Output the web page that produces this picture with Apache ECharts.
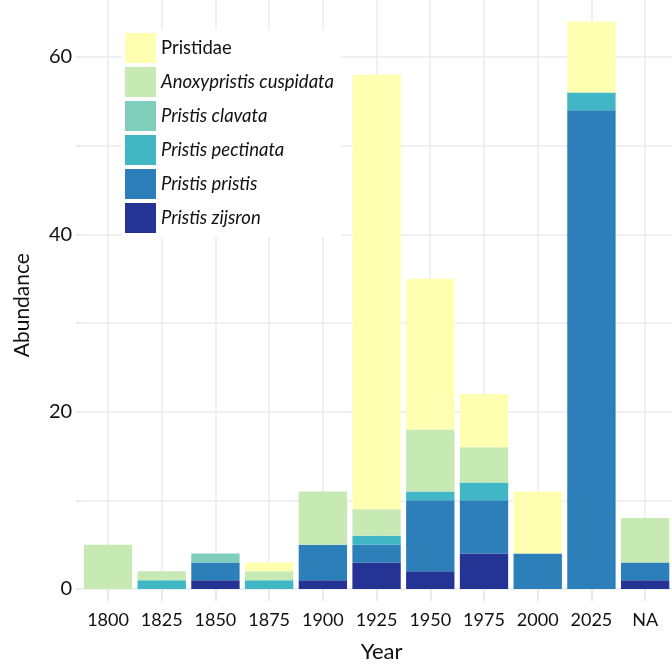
<!DOCTYPE html>
<html>
<head>
<meta charset="utf-8">
<script src="https://cdn.jsdelivr.net/npm/echarts@6/dist/echarts.min.js"></script>
<style>html,body{margin:0;padding:0;background:#fff}#c{width:672px;height:665px}</style>
</head>
<body>
<div id="c"></div>
<script>
const categories = ['1800','1825','1850','1875','1900','1925','1950','1975','2000','2025','NA'];
const zijsron   = [0,0,1,0,1,3,2,4,0,0,1];
const pristis   = [0,0,2,0,4,2,8,6,4,54,2];
const pectinata = [0,1,0,1,0,1,1,2,0,2,0];
const clavata   = [0,0,1,0,0,0,0,0,0,0,0];
const anoxy     = [5,1,0,1,6,3,7,4,0,0,5];
const pristidae = [0,0,0,1,0,49,17,6,7,8,0];
const yTicks = [0,20,40,60];

const seriesDefs = [
  ['Pristis zijsron', zijsron, '#253494'],
  ['Pristis pristis', pristis, '#2c7fb8'],
  ['Pristis pectinata', pectinata, '#41b6c4'],
  ['Pristis clavata', clavata, '#7fcdbb'],
  ['Anoxypristis cuspidata', anoxy, '#c7e9b4'],
  ['Pristidae', pristidae, '#ffffb2']
];

const gridCol = '#ebebeb';
const txt = '#111';
const font = 'Lato';
const gTop = -31.7, gBottom = 76;

const chart = echarts.init(document.getElementById('c'), null, {renderer:'canvas'});
chart.setOption({
  animation: false,
  backgroundColor: '#fff',
  textStyle: {fontFamily: font},
  grid: [
    {left: 81.15, right: 0, top: gTop, bottom: gBottom, outerBoundsMode: 'none', containLabel: false},
    {left: 107.85, right: 26.85, top: gTop, bottom: gBottom, outerBoundsMode: 'none', containLabel: false}
  ],
  legend: {
    orient: 'vertical',
    left: 122, top: 30,
    itemWidth: 31, itemHeight: 30, itemGap: 4,
    padding: [3, 7, 4, 3],
    backgroundColor: '#fff',
    icon: 'rect',
    data: seriesDefs.map(d => d[0]).reverse(),
    formatter: name => name === 'Pristidae' ? name : '{i|' + name + '}',
    textStyle: {
      fontFamily: font, fontSize: 18.5, color: txt,
      rich: {i: {fontFamily: font, fontStyle: 'italic', fontSize: 18.5, color: txt}}
    }
  },
  xAxis: [
    {
      type: 'category', gridIndex: 0, data: categories,
      axisLine: {show: false},
      axisTick: {show: true, alignWithLabel: true, length: 12, lineStyle: {color: '#e3e3e3', width: 1.5}},
      axisLabel: {fontSize: 18, color: txt, margin: 22, fontFamily: font, interval: 0},
      splitLine: {show: false},
      name: 'Year', nameLocation: 'middle', nameGap: 52,
      nameTextStyle: {fontSize: 22, color: txt, fontFamily: font, padding: [0,0,0,10]}
    },
    {
      type: 'category', gridIndex: 1, data: categories, boundaryGap: false,
      axisLine: {show: false}, axisTick: {show: false}, axisLabel: {show: false},
      splitLine: {show: true, interval: 0, lineStyle: {color: gridCol, width: 1.5}}
    }
  ],
  yAxis: [
    {
      type: 'value', gridIndex: 0, min: 0, max: 70, interval: 10,
      axisLine: {show: false},
      axisTick: {show: true, length: 5, lineStyle: {color: '#e3e3e3', width: 1.5}},
      axisLabel: {fontSize: 20, color: txt, margin: 9, fontFamily: font,
        formatter: v => yTicks.indexOf(v) >= 0 ? String(v) : ''},
      splitLine: {show: true, lineStyle: {color: gridCol, width: 1.5}},
      name: 'Abundance', nameLocation: 'middle', nameGap: 48,
      nameTextStyle: {fontSize: 21, color: txt, fontFamily: font, padding: [0, 53, 0, 0]}
    },
    {type: 'value', gridIndex: 1, show: false}
  ],
  series: seriesDefs.map(d => ({
    name: d[0], type: 'bar', stack: 'total', xAxisIndex: 0, yAxisIndex: 0,
    data: d[1], barCategoryGap: '10%',
    itemStyle: {color: d[2]}
  }))
});
</script>
</body>
</html>
